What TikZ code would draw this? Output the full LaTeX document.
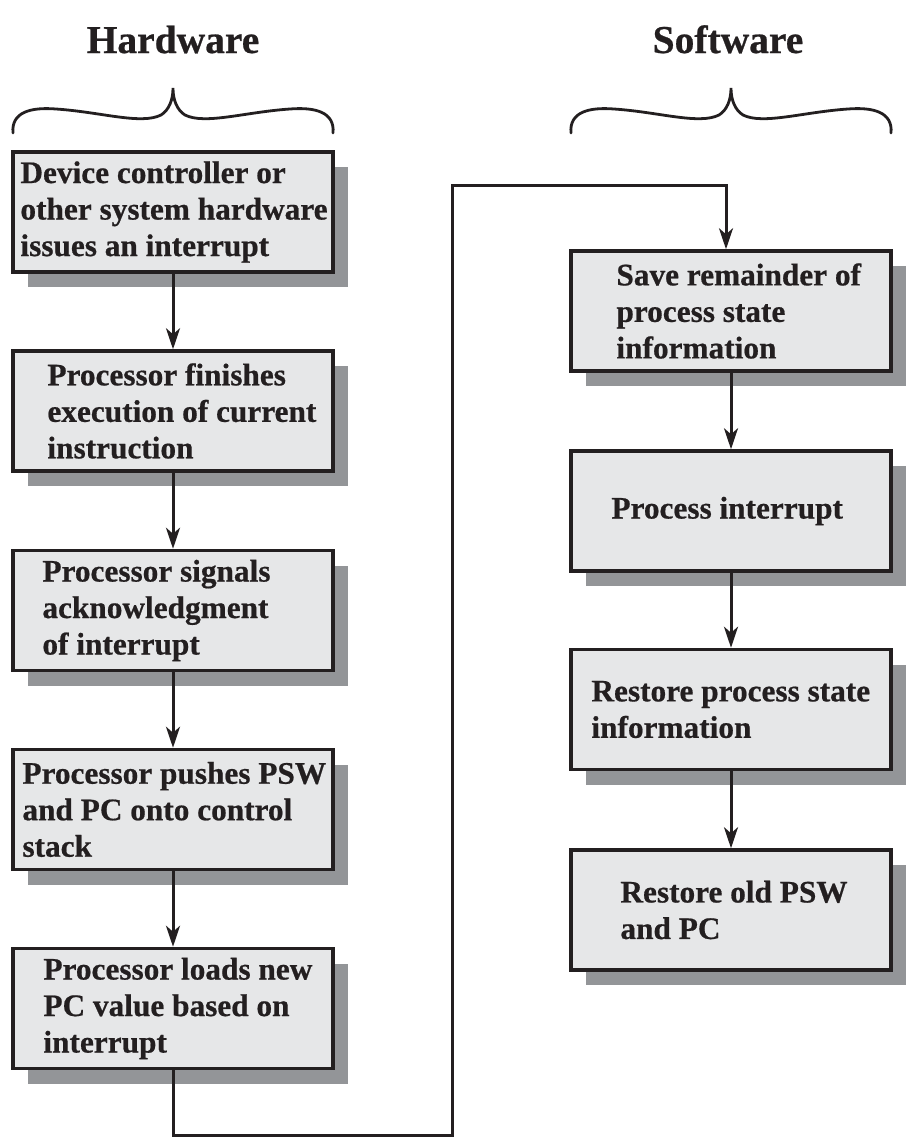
\documentclass[tikz,border=0pt]{standalone}
\usepackage{fontspec}
\setmainfont{Liberation Serif}[BoldFeatures={FakeBold=0.6}]
\usetikzlibrary{arrows.meta,shadows}
\definecolor{boxfill}{HTML}{E6E7E8}
\definecolor{shadowgray}{HTML}{939598}
\definecolor{ink}{HTML}{231F20}
\begin{document}
\begin{tikzpicture}[x=1pt,y=-1pt,
  stepbox/.style={draw=ink, line width=3.5pt, fill=boxfill, minimum width=320pt, minimum height=120pt, inner sep=0pt,
    drop shadow={shadow xshift=15pt, shadow yshift=-15pt, fill=shadowgray, opacity=1, draw=none}},
  boxtext/.style={anchor=west, align=left, inner sep=0pt, text=ink,
    font=\fontsize{31.3}{36.5}\selectfont\bfseries},
  title/.style={anchor=base, text=ink, font=\fontsize{39.5}{44}\selectfont\bfseries},
  flow/.style={draw=ink, line width=3pt, -{Stealth[length=21pt,width=14pt,inset=6pt]}},
  bracepath/.style={draw=ink, line width=2.8pt, line cap=round}
]
\useasboundingbox (0,0) rectangle (918,1146);

% titles
\node[title] (hw) at (173,53) {Hardware};
\node[title] (sw) at (728,53) {Software};

% braces
\foreach \c in {173,731}{
  \draw[bracepath, shift={(\c pt,0)}]
    (-160,133) .. controls (-162,112) and (-142,107) .. (-117,109)
    .. controls (-72,112) and (-32,125) .. (-12,115)
    .. controls (-4,110) and (0,100) .. (0,88)
    .. controls (0,100) and (4,110) .. (12,115)
    .. controls (32,125) and (72,112) .. (117,109)
    .. controls (142,107) and (162,112) .. (160,133);
}

% hardware boxes
\node[stepbox] (h1) at (173,212) {};
\node[stepbox] (h2) at (173,411) {};
\node[stepbox] (h3) at (173,610.5) {};
\node[stepbox] (h4) at (173,809.5) {};
\node[stepbox] (h5) at (173,1008.5) {};

\node[boxtext] (t1) at ([xshift=9pt]h1.west) {Device controller or\\other system hardware\\issues an interrupt};
\node[boxtext] (t2) at ([xshift=36pt]h2.west) {Processor finishes\\execution of current\\instruction};
\node[boxtext] (t3) at ([xshift=31pt]h3.west) {Processor signals\\acknowledgment\\of interrupt};
\node[boxtext] (t4) at ([xshift=11pt]h4.west) {Processor pushes PSW\\and PC onto control\\stack};
\node[boxtext] (t5) at ([xshift=32pt]h5.west) {Processor loads new\\PC value based on\\interrupt};

% software boxes
\node[stepbox] (s1) at (731,311) {};
\node[stepbox] (s2) at (731,511) {};
\node[stepbox] (s3) at (731,709.5) {};
\node[stepbox] (s4) at (731,910) {};

\node[boxtext] (u1) at ([xshift=47pt]s1.west) {Save remainder of\\process state\\information};
\node[boxtext] (u2) at ([xshift=42pt]s2.west) {Process interrupt};
\node[boxtext] (u3) at ([xshift=22pt]s3.west) {Restore process state\\information};
\node[boxtext] (u4) at ([xshift=51pt]s4.west) {Restore old PSW\\and PC};

% connectors
\draw[flow] (h1.south) -- (h2.north);
\draw[flow] (h2.south) -- (h3.north);
\draw[flow] (h3.south) -- (h4.north);
\draw[flow] (h4.south) -- (h5.north);

\coordinate (c1) at (173,1135);
\coordinate (c2) at (452,1135);
\coordinate (c3) at (452,185);
\coordinate (c4) at (726,185);
\draw[flow] (h5.south) -- (c1) -- (c2) -- (c3) -- (c4) -- ([xshift=-5pt]s1.north);

\draw[flow] (s1.south) -- (s2.north);
\draw[flow] (s2.south) -- (s3.north);
\draw[flow] (s3.south) -- (s4.north);
\end{tikzpicture}
\end{document}
